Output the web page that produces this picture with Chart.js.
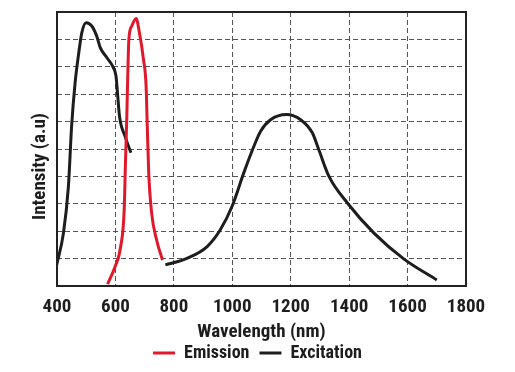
<!DOCTYPE html>
<html>
<head>
<meta charset="utf-8">
<script src="https://cdn.jsdelivr.net/npm/chart.js@4.4.0/dist/chart.umd.min.js"></script>
<style>
    html, body { margin: 0; padding: 0; background: #fff; }
    #wrap { width: 515px; height: 372px; }
</style>
</head>
<body>
<div id="wrap"><canvas id="espectro"></canvas></div>
<script>
// wavelengths (nm) and intensities
const emisionX = [573, 599, 618, 630, 634, 639, 643, 646, 656, 671, 682, 696, 705, 709, 714, 724, 741, 761];
const emisionY = [0.07, 0.71, 1.44, 2.78, 4.37, 6.19, 8.02, 9.0, 9.49, 9.76, 9.25, 8.27, 7.29, 5.83, 4.12, 2.66, 1.68, 0.95];

// excitation: first band (visible)
const excitacion1X = [399, 422, 439, 450, 462, 473, 485, 500, 519, 536, 548, 571, 593, 602, 607, 614, 633, 653];
const excitacion1Y = [0.77, 1.93, 3.63, 5.83, 7.42, 8.39, 9.25, 9.61, 9.49, 9.12, 8.70, 8.33, 7.97, 7.66, 7.05, 6.19, 5.46, 4.86];
// excitation: second band (NIR)
const excitacion2X = [771, 845, 914, 959, 999, 1039, 1074, 1097, 1131, 1186, 1234, 1274, 1296, 1331, 1394, 1485, 1588, 1700];
const excitacion2Y = [0.77, 1.01, 1.44, 2.05, 2.90, 4.12, 5.10, 5.65, 6.07, 6.26, 6.07, 5.59, 4.98, 4.00, 3.03, 1.93, 0.98, 0.22];

const ticksX = [400, 600, 800, 1000, 1200, 1400, 1600, 1800];

const fuente = "'Roboto Condensed', 'DejaVu Sans Condensed', sans-serif";
const negro = '#1d1d1d';

function puntos(xs, ys) {
    return xs.map((x, i) => ({ x: x, y: ys[i] }));
}

// a null point breaks the excitation line between the two bands
const excitacion = puntos(excitacion1X, excitacion1Y)
    .concat([{ x: 700, y: null }])
    .concat(puntos(excitacion2X, excitacion2Y));

// box around the plot area (chart.js only draws left/bottom borders)
const marco = {
    id: 'marco',
    afterDraw(chart) {
        const { ctx, chartArea: a } = chart;
        ctx.save();
        ctx.strokeStyle = '#222';
        ctx.lineWidth = 2;
        ctx.strokeRect(a.left, a.top, a.right - a.left, a.bottom - a.top);
        ctx.restore();
    }
};

const grafico = new Chart(document.getElementById('espectro').getContext('2d'), {
    type: 'line',
    data: {
        datasets: [
            {
                label: 'Emission',
                data: puntos(emisionX, emisionY),
                borderColor: '#e0182c',
                backgroundColor: '#e0182c',
                borderWidth: 3,
                pointRadius: 0,
                cubicInterpolationMode: 'monotone'
            },
            {
                label: 'Excitation',
                data: excitacion,
                borderColor: negro,
                backgroundColor: negro,
                borderWidth: 3,
                pointRadius: 0,
                cubicInterpolationMode: 'monotone',
                spanGaps: false
            }
        ]
    },
    options: {
        responsive: true,
        maintainAspectRatio: false,
        animation: false,
        layout: { padding: { top: 12, right: 0, left: 0, bottom: 0 } },
        plugins: {
            tooltip: { enabled: false },
            legend: {
                position: 'bottom',
                labels: {
                    usePointStyle: true,
                    pointStyle: 'line',
                    pointStyleWidth: 22,
                    padding: 10,
                    color: negro,
                    font: { family: fuente, size: 18, weight: 'bold' }
                }
            }
        },
        scales: {
            x: {
                type: 'linear',
                min: 400,
                max: 1800,
                afterBuildTicks: (scale) => { scale.ticks = ticksX.map(v => ({ value: v })); },
                afterFit: (scale) => { scale.height = 48; },
                ticks: {
                    padding: 10,
                    maxRotation: 0,
                    autoSkip: false,
                    color: negro,
                    callback: (v) => String(v),
                    font: { family: fuente, size: 19, weight: 'bold' }
                },
                grid: {
                    drawTicks: false,
                    color: '#555',
                    lineWidth: 1
                },
                border: { display: false, dash: [5, 3] },
                title: {
                    display: true,
                    text: 'Wavelength (nm)',
                    color: negro,
                    padding: { top: 0, bottom: -10 },
                    font: { family: fuente, size: 19, weight: 'bold' }
                }
            },
            y: {
                min: 0,
                max: 10,
                ticks: { display: false, stepSize: 1 },
                grid: {
                    drawTicks: false,
                    color: '#555',
                    lineWidth: 1
                },
                border: { display: false, dash: [5, 3] },
                afterFit: (scale) => { scale.width = 57; },
                title: {
                    display: true,
                    // trailing spaces push the label down like in the original
                    text: 'Intensity (a.u)        ',
                    color: negro,
                    padding: { top: 29, bottom: 0 },
                    font: { family: fuente, size: 19, weight: 'bold' }
                }
            },
            // empty right axis, only reserves the space right of the plot
            derecha: {
                position: 'right',
                min: 0,
                max: 10,
                ticks: { display: false },
                grid: { display: false },
                border: { display: false },
                afterFit: (scale) => { scale.width = 49; }
            }
        }
    },
    plugins: [marco]
});
</script>
</body>
</html>
